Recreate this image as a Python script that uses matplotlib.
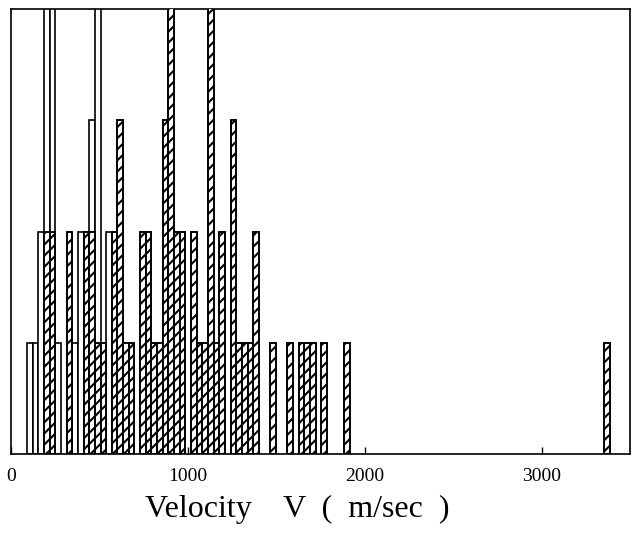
import numpy as np
import matplotlib
matplotlib.use("Agg")
import matplotlib.pyplot as plt

# bin width of the histogram (m/sec)
bin_width = 32

# hatched histogram: left edge of each bin and its count
hatched_v = [186, 218, 314, 410, 442, 474, 506, 570, 602, 634, 666,
             730, 762, 794, 826, 858, 890, 922, 954, 1018, 1050, 1082,
             1114, 1146, 1178, 1242, 1274, 1306, 1338, 1370, 1466, 1562,
             1626, 1658, 1690, 1754, 1882, 3354]
hatched_n = [2, 2, 2, 2, 2, 1, 1, 2, 3, 1, 1,
             2, 2, 1, 1, 3, 5, 2, 2, 2, 1, 1,
             5, 1, 2, 3, 1, 1, 1, 2, 1, 1,
             1, 1, 1, 1, 1, 1]

# open (white) histogram behind it
open_v = [90, 122, 154, 186, 218, 250, 346, 378, 442, 474, 538]
open_n = [1, 1, 2, 5, 5, 1, 1, 2, 3, 5, 2]

xticks = [0, 1000, 2000, 3000]

plt.rcParams['font.family'] = ['Liberation Serif', 'DejaVu Serif']
plt.rcParams['hatch.linewidth'] = 1.5

fig = plt.figure(figsize=(6.33, 5.45), dpi=100)
ax = fig.add_axes([0.0174, 0.167, 0.978, 0.816])

# open bars first, hatched ones on top
ax.bar(open_v, open_n, width=bin_width, align='edge', color='white',
       edgecolor='black', linewidth=1.2, zorder=2)
ax.bar(hatched_v, hatched_n, width=bin_width, align='edge', color='white',
       edgecolor='black', linewidth=1.4, hatch='///', zorder=3)

ax.set_xlim(0, 3500)
ax.set_ylim(0, 4)
ax.set_xticks(xticks)
ax.set_xticklabels([str(t) for t in xticks], fontsize=14)
ax.set_yticks([])
ax.tick_params(axis='x', direction='in', length=5, width=1, pad=10)
for s in ax.spines.values():
    s.set_linewidth(1.2)

ax.set_xlabel('Velocity    V  (  m/sec  )', fontsize=23)
ax.xaxis.set_label_coords(0.462, -0.092)

fig.savefig('out.png', dpi=100)
